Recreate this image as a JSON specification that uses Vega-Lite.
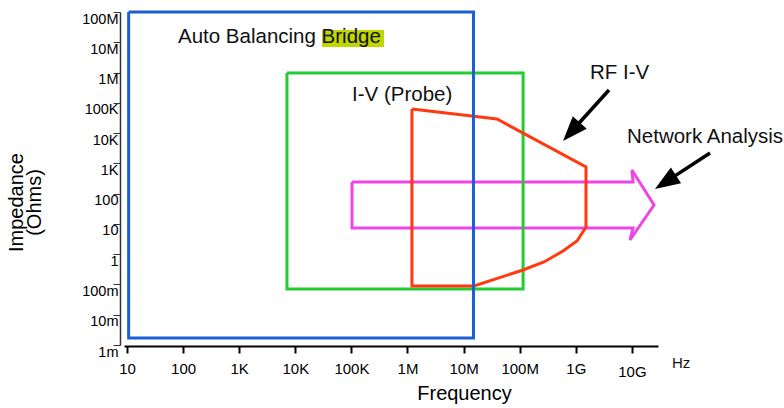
{
  "$schema": "https://vega.github.io/schema/vega-lite/v6.json",
  "width": 534,
  "height": 333,
  "autosize": "none",
  "padding": {"left": 124, "top": 12, "right": 126, "bottom": 63},
  "background": "white",
  "config": {"view": {"stroke": null}, "font": "Liberation Sans"},
  "datasets": {
    "poly": [
      {"shape": "blue", "i": 0, "f": 10.7, "z": 1e8},
      {"shape": "blue", "i": 1, "f": 1.5e7, "z": 1e8},
      {"shape": "blue", "i": 2, "f": 1.5e7, "z": 0.0017},
      {"shape": "blue", "i": 3, "f": 10.7, "z": 0.0017},
      {"shape": "blue", "i": 4, "f": 10.7, "z": 1e8},
      {"shape": "green", "i": 0, "f": 7100, "z": 970000},
      {"shape": "green", "i": 1, "f": 1.15e8, "z": 970000},
      {"shape": "green", "i": 2, "f": 1.15e8, "z": 0.0708},
      {"shape": "green", "i": 3, "f": 7100, "z": 0.0708},
      {"shape": "green", "i": 4, "f": 7100, "z": 970000},
      {"shape": "red", "i": 0, "f": 1.2e6, "z": 62700},
      {"shape": "red", "i": 1, "f": 3.94e7, "z": 29200},
      {"shape": "red", "i": 2, "f": 1.52e9, "z": 759},
      {"shape": "red", "i": 3, "f": 1.52e9, "z": 7.9},
      {"shape": "red", "i": 4, "f": 1.05e9, "z": 2.73},
      {"shape": "red", "i": 5, "f": 5.92e8, "z": 1.27},
      {"shape": "red", "i": 6, "f": 2.71e8, "z": 0.552},
      {"shape": "red", "i": 7, "f": 1.146e8, "z": 0.301},
      {"shape": "red", "i": 8, "f": 1.53e7, "z": 0.0889},
      {"shape": "red", "i": 9, "f": 1.2e6, "z": 0.0889},
      {"shape": "red", "i": 10, "f": 1.2e6, "z": 62700},
      {"shape": "pink", "i": 0, "f": 1.026e5, "z": 243},
      {"shape": "pink", "i": 1, "f": 1.05e10, "z": 243},
      {"shape": "pink", "i": 2, "f": 1.0e10, "z": 604},
      {"shape": "pink", "i": 3, "f": 2.48e10, "z": 42.2},
      {"shape": "pink", "i": 4, "f": 9.25e9, "z": 2.94},
      {"shape": "pink", "i": 5, "f": 1.05e10, "z": 7.33},
      {"shape": "pink", "i": 6, "f": 1.026e5, "z": 7.33},
      {"shape": "pink", "i": 7, "f": 1.026e5, "z": 243}
    ],
    "shafts": [
      {"arrow": "rf", "i": 0, "f": 3.91e9, "z": 266000},
      {"arrow": "rf", "i": 1, "f": 8.2e8, "z": 10900},
      {"arrow": "na", "i": 0, "f": 2.47e11, "z": 2200},
      {"arrow": "na", "i": 1, "f": 3.89e10, "z": 235}
    ],
    "heads": [
      {"arrow": "rf", "f": 5.92e8, "z": 5480},
      {"arrow": "na", "f": 2.58e10, "z": 142.6}
    ],
    "highlight": [
      {"f": 29900, "f2": 381000, "z": 2.55e7, "z2": 7.0e6}
    ],
    "labels": [
      {"label": "Auto Balancing Bridge", "f": 81.1, "z": 1.45e7},
      {"label": "I-V (Probe)", "f": 1.026e5, "z": 1.85e5},
      {"label": "RF I-V", "f": 1.79e9, "z": 9.4e5},
      {"label": "Network Analysis", "f": 8.18e9, "z": 7200}
    ],
    "units": [
      {"label": "Hz", "f": 5.19e10, "z": 0.00026}
    ]
  },
  "encoding": {
    "x": {
      "field": "f",
      "type": "quantitative",
      "scale": {"type": "log", "domain": [8.84, 2.92e10], "nice": false},
      "axis": {
        "values": [10, 100, 1000, 10000, 100000, 1000000, 10000000, 100000000, 1000000000, 10000000000],
        "labelExpr": "['10','100','1K','10K','100K','1M','10M','100M','1G','10G'][round(log(datum.value)/LN10)-1]",
        "grid": false,
        "offset": 1,
        "domainColor": "black",
        "domainWidth": 2,
        "tickColor": "black",
        "tickWidth": 2,
        "tickSize": 7,
        "labelFont": "Liberation Sans",
        "labelFontSize": 15,
        "labelColor": "black",
        "labelPadding": {"condition": {"test": "datum.value > 5e9", "value": 11}, "value": 8},
        "labelBaseline": "top",
        "labelFlush": false,
        "labelOverlap": false,
        "title": "Frequency",
        "titleFont": "Liberation Sans",
        "titleFontSize": 20,
        "titleFontWeight": "normal",
        "titleColor": "black",
        "titleX": 340,
        "titleY": 53,
        "titleAlign": "center",
        "titleBaseline": "alphabetic"
      }
    },
    "y": {
      "field": "z",
      "type": "quantitative",
      "scale": {"type": "log", "domain": [0.001, 100000000], "nice": false},
      "axis": {
        "values": [0.001, 0.01, 0.1, 1, 10, 100, 1000, 10000, 100000, 1000000, 10000000, 100000000],
        "labelExpr": "['1m','10m','100m','1','10','100','1K','10K','100K','1M','10M','100M'][round(log(datum.value)/LN10)+3]",
        "grid": false,
        "offset": 4,
        "domainColor": "#333333",
        "domainWidth": 1.5,
        "tickColor": "#333333",
        "tickWidth": 1,
        "tickSize": 7,
        "labelFont": "Liberation Sans",
        "labelFontSize": 14.5,
        "labelColor": "black",
        "labelPadding": -5,
        "labelBaseline": "top",
        "labelFlush": false,
        "labelOverlap": false,
        "title": ["Impedance", "(Ohms)"],
        "titleFont": "Liberation Sans",
        "titleFontSize": 20,
        "titleFontWeight": "normal",
        "titleColor": "black",
        "titleLineHeight": 18,
        "titleAngle": -90,
        "titleX": -104,
        "titleY": 190,
        "titleAlign": "center",
        "titleBaseline": "middle"
      }
    }
  },
  "layer": [
    {
      "data": {"name": "highlight"},
      "mark": {"type": "rect", "color": "#bfd600"},
      "encoding": {"x2": {"field": "f2"}, "y2": {"field": "z2"}}
    },
    {
      "data": {"name": "poly"},
      "transform": [{"filter": "datum.shape === 'pink'"}],
      "mark": {"type": "line", "stroke": "#ee44e8", "strokeWidth": 3, "strokeJoin": "miter"},
      "encoding": {"order": {"field": "i"}}
    },
    {
      "data": {"name": "poly"},
      "transform": [{"filter": "datum.shape === 'green'"}],
      "mark": {"type": "line", "stroke": "#22cc33", "strokeWidth": 3, "strokeJoin": "miter"},
      "encoding": {"order": {"field": "i"}}
    },
    {
      "data": {"name": "poly"},
      "transform": [{"filter": "datum.shape === 'red'"}],
      "mark": {"type": "line", "stroke": "#ff3a10", "strokeWidth": 3, "strokeJoin": "miter"},
      "encoding": {"order": {"field": "i"}}
    },
    {
      "data": {"name": "poly"},
      "transform": [{"filter": "datum.shape === 'blue'"}],
      "mark": {"type": "line", "stroke": "#1a5fd6", "strokeWidth": 3, "strokeJoin": "miter"},
      "encoding": {"order": {"field": "i"}}
    },
    {
      "data": {"name": "shafts"},
      "mark": {"type": "line", "stroke": "black", "strokeWidth": 3.5},
      "encoding": {"order": {"field": "i"}, "detail": {"field": "arrow"}}
    },
    {
      "data": {"name": "heads"},
      "transform": [{"filter": "datum.arrow === 'rf'"}],
      "mark": {"type": "point", "shape": "M0,0 L-0.75,2 L0.75,2 Z", "size": 625, "filled": true, "color": "black", "opacity": 1, "strokeWidth": 0, "angle": 222}
    },
    {
      "data": {"name": "heads"},
      "transform": [{"filter": "datum.arrow === 'na'"}],
      "mark": {"type": "point", "shape": "M0,0 L-0.75,2 L0.75,2 Z", "size": 625, "filled": true, "color": "black", "opacity": 1, "strokeWidth": 0, "angle": 237}
    },
    {
      "data": {"name": "labels"},
      "mark": {"type": "text", "align": "left", "baseline": "middle", "font": "Liberation Sans", "fontSize": 20.5, "color": "#111111"},
      "encoding": {"text": {"field": "label"}}
    },
    {
      "data": {"name": "units"},
      "mark": {"type": "text", "align": "left", "baseline": "middle", "font": "Liberation Sans", "fontSize": 15, "color": "#111111"},
      "encoding": {"text": {"field": "label"}}
    }
  ]
}
